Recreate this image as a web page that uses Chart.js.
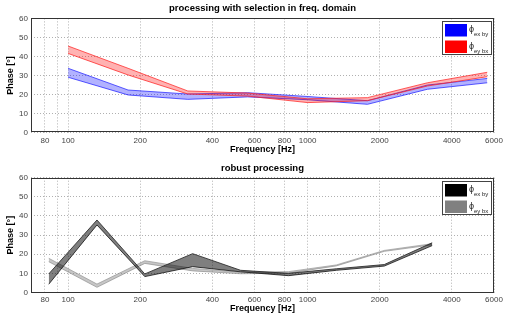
<!DOCTYPE html>
<html>
<head>
<meta charset="utf-8">
<script src="https://cdn.jsdelivr.net/npm/chart.js@4/dist/chart.umd.min.js"></script>
<style>
html,body{margin:0;padding:0;background:#fff;}
#wrap{width:512px;height:322px;position:relative;}
canvas{display:block;}
</style>
</head>
<body>
<div id="wrap">
<canvas id="c1" width="512" height="161"></canvas>
<canvas id="c2" width="512" height="161"></canvas>
</div>
<script>
// ---- data ----
const topTitle = 'processing with selection in freq. domain';
const botTitle = 'robust processing';
const xTitle = 'Frequency [Hz]';
const yTitle = 'Phase [°]';
const legendSubs = ['ex by', 'ey bx'];

const xTickValues = [80, 90, 100, 200, 400, 600, 800, 1000, 2000, 4000, 6000];
const xTickLabels = [80, 100, 200, 400, 600, 800, 1000, 2000, 4000, 6000];

const topFreq   = [100, 178, 316, 562, 1000, 1778, 3162, 5623];
const blueUpper = [33.8, 22.4, 20.3, 21.0, 19.0, 16.8, 25.0, 28.5];
const blueLower = [29.1, 19.8, 17.5, 18.8, 17.3, 14.9, 22.8, 26.2];
const redUpper  = [45.5, 33.8, 21.9, 20.8, 17.8, 18.4, 26.2, 31.7];
const redLower  = [41.6, 30.3, 20.3, 19.2, 15.8, 16.8, 24.5, 29.4];

const botFreq    = [83, 132, 209, 331, 525, 832, 1318, 2089, 3311];
const darkUpper  = [9.7, 37.9, 9.7, 20.3, 11.6, 10.0, 12.4, 14.6, 26.0];
const darkLower  = [4.3, 35.3, 8.3, 13.5, 10.8, 8.8, 11.6, 13.8, 24.5];
const lightUpper = [17.9, 4.4, 16.6, 12.6, 10.6, 10.9, 14.4, 22.0, 25.5];
const lightLower = [16.1, 2.7, 15.2, 11.3, 9.8, 10.1, 13.9, 21.5, 24.9];

// ---- helpers ----
const FONT = '"Liberation Sans", Arial, sans-serif';
function pts(xs, ys){ return xs.map((x,i)=>({x:x, y:ys[i]})); }

function band(xs, up, lo, edge, fillCol, order, bw){
  return [
    {data: pts(xs, up), borderColor: edge, borderWidth: bw, backgroundColor: fillCol,
     fill: '+1', pointRadius: 0, tension: 0, order: order},
    {data: pts(xs, lo), borderColor: edge, borderWidth: bw, backgroundColor: fillCol,
     fill: false, pointRadius: 0, tension: 0, order: order}
  ];
}

const frameLegend = {
  id: 'frameLegend',
  afterDraw(chart, args, opts){
    const ctx = chart.ctx, a = chart.chartArea;
    ctx.save();
    ctx.strokeStyle = '#333'; ctx.lineWidth = 1;
    ctx.strokeRect(Math.round(a.left)+0.5, Math.round(a.top)+0.5,
                   Math.round(a.right-a.left)-1, Math.round(a.bottom-a.top)-1);
    const x0 = Math.round(a.right) - 52, y0 = Math.round(a.top) + 3;
    ctx.fillStyle = '#fff'; ctx.fillRect(x0, y0, 49, 33);
    ctx.strokeStyle = '#444'; ctx.strokeRect(x0+0.5, y0+0.5, 49, 33);
    opts.items.forEach((it, i) => {
      const sy = y0 + 3 + i*16.5;
      ctx.fillStyle = it.color; ctx.fillRect(x0+3, sy, 22, 12.5);
      ctx.fillStyle = '#222'; ctx.textBaseline = 'alphabetic'; ctx.textAlign = 'left';
      ctx.font = '9px ' + FONT; ctx.fillText('ϕ', x0+27, sy+8);
      ctx.font = '6px ' + FONT; ctx.fillText(it.sub, x0+32, sy+12);
    });
    ctx.restore();
  }
};

function makeChart(id, title, datasets, legendItems, lay){
  return new Chart(document.getElementById(id), {
    type: 'line',
    data: {datasets: datasets},
    plugins: [frameLegend],
    options: {
      responsive: false, animation: false, devicePixelRatio: 1,
      layout: {padding: {left: 0, right: 18, top: 0, bottom: lay.padBottom}},
      plugins: {
        legend: {display: false}, tooltip: {enabled: false},
        title: {display: true, text: title, color: '#000', fullSize: false,
                font: {family: FONT, size: 9.5, weight: 'bold'},
                padding: {top: lay.tTop, bottom: lay.tBottom}},
        frameLegend: {items: legendItems}
      },
      scales: {
        x: {
          type: 'logarithmic', min: 70, max: 6000,
          afterBuildTicks: s => { s.ticks = xTickValues.map(v => ({value: v})); },
          afterFit: s => { s.height = lay.xH; },
          ticks: {autoSkip: false, maxRotation: 0, padding: lay.xPad, color: '#444',
                  font: {family: FONT, size: 8},
                  callback: v => xTickLabels.includes(v) ? String(v) : ''},
          grid: {color: '#b0b0b0', lineWidth: 1, drawTicks: false},
          border: {display: false, dash: [1, 2]},
          title: {display: true, text: xTitle, color: '#000', padding: 0,
                  font: {family: FONT, size: 9, weight: 'bold'}}
        },
        y: {
          min: 0, max: 60,
          afterFit: s => { s.width = 31; },
          ticks: {stepSize: 10, padding: 3, color: '#444', font: {family: FONT, size: 8}},
          grid: {color: '#b0b0b0', lineWidth: 1, drawTicks: false},
          border: {display: false, dash: [1, 2]},
          title: {display: true, text: yTitle, color: '#000', padding: {top: 5.6, bottom: 0},
                  font: {family: FONT, size: 9, weight: 'bold'}}
        }
      }
    }
  });
}

makeChart('c1', topTitle,
  [...band(topFreq, redUpper, redLower, 'rgba(255,40,40,0.75)', 'rgba(255,0,0,0.3)', 1, 1),
   ...band(topFreq, blueUpper, blueLower, 'rgba(40,40,255,0.75)', 'rgba(0,0,255,0.3)', 2, 1)],
  [{color: '#0000ff', sub: legendSubs[0]}, {color: '#ff0000', sub: legendSubs[1]}],
  {padBottom: 5.6, tTop: 3, tBottom: 4, xH: 22.7, xPad: 3});

makeChart('c2', botTitle,
  [...band(botFreq, darkUpper, darkLower, 'rgba(40,40,40,0.85)', 'rgba(0,0,0,0.5)', 1, 1),
   ...band(botFreq, lightUpper, lightLower, 'rgba(150,150,150,0.7)', 'rgba(128,128,128,0.45)', 2, 1)],
  [{color: '#000000', sub: legendSubs[0]}, {color: '#808080', sub: legendSubs[1]}],
  {padBottom: 7.6, tTop: 2, tBottom: 3.3, xH: 21.9, xPad: 2.5});
</script>
</body>
</html>
